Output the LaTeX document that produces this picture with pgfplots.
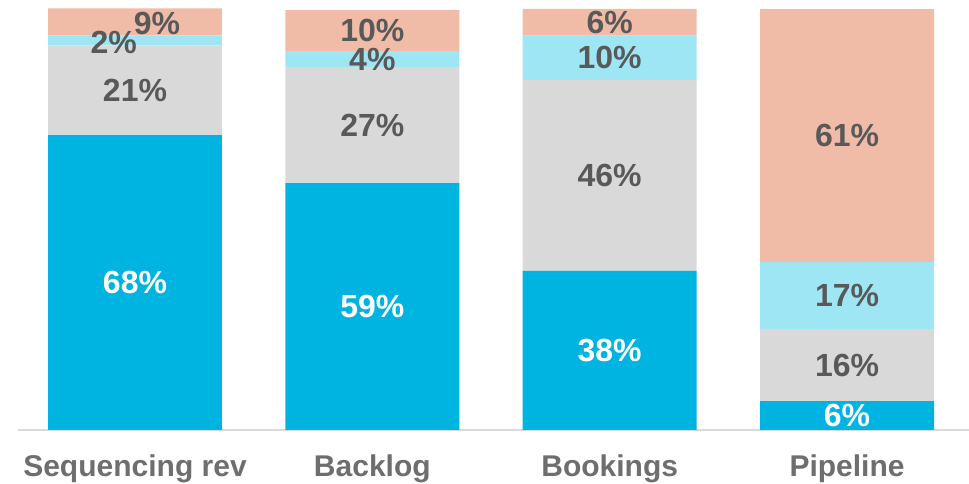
\documentclass[border=0pt]{standalone}
\usepackage{fontspec}
\setmainfont{Liberation Sans}
\usepackage{pgfplots}
\pgfplotsset{compat=1.18}
\definecolor{cblue}{HTML}{00B4E2}
\definecolor{cgray}{HTML}{D9D9D9}
\definecolor{clblue}{HTML}{9FE6F5}
\definecolor{csalmon}{HTML}{F0BCA8}
\definecolor{ctxt}{HTML}{595959}
\definecolor{ctick}{HTML}{6E6E6E}
\pgfplotsset{
 common/.style={scale only axis, width=713.25pt, height=322.5pt,
  at={(0pt,0pt)}, anchor=south west,
  xmin=-0.493, xmax=3.514, ymin=0, ymax=102.4, clip=false},
 lab/.style={nodes near coords={\pgfplotspointmeta\%}, point meta=explicit symbolic,
  only marks, mark=none, nodes near coords align=center,
  every node near coord/.append style={text=#1, font=\fontsize{24}{28}\selectfont\bfseries, anchor=center, inner sep=0pt}},
}
\begin{document}
\begin{tikzpicture}
\begin{axis}[common,
 ybar stacked, bar width=0.733,
 xtick={0,1,2,3}, xticklabels={Sequencing rev,Backlog,Bookings,Pipeline},
 xticklabel style={font=\fontsize{22.5}{27}\selectfont\bfseries, text=ctick, yshift=-15pt},
 major tick length=0pt, xtick style={draw=none},
 axis x line=bottom, axis y line=none,
 axis line style={-},
 x axis line style={draw=cgray, line width=1.5pt},
 ytick=\empty,
]
\addplot[fill=cblue, draw=none] coordinates {(0,70.2) (1,58.8) (2,37.9) (3,6.9)};
\addplot[fill=cgray, draw=none] coordinates {(0,21.4) (1,27.6) (2,45.5) (3,17.1)};
\addplot[fill=clblue, draw=none] coordinates {(0,2.4) (1,3.8) (2,10.5) (3,16.0)};
\addplot[fill=csalmon, draw=none] coordinates {(0,6.4) (1,9.8) (2,6.4) (3,60.2)};
\end{axis}
\begin{axis}[common, hide axis]
% labels on blue segments (white)
\addplot[lab=white] table[meta=lab] {
x y lab
0 35.1 68
1 29.4 59
2 18.95 38
3 3.45 6
};
% other labels (dark gray)
\addplot[lab=ctxt] table[meta=lab] {
x y lab
0 80.9 21
-0.09 92.3 2
0.093 96.9 9
1 72.6 27
1 88.3 4
1 95.1 10
2 60.65 46
2 88.65 10
2 97.1 6
3 15.45 16
3 32.0 17
3 70.1 61
};
\end{axis}
\pgfresetboundingbox
\useasboundingbox (-13.5pt,-40.5pt) rectangle (713.25pt,322.5pt);
\end{tikzpicture}
\end{document}
